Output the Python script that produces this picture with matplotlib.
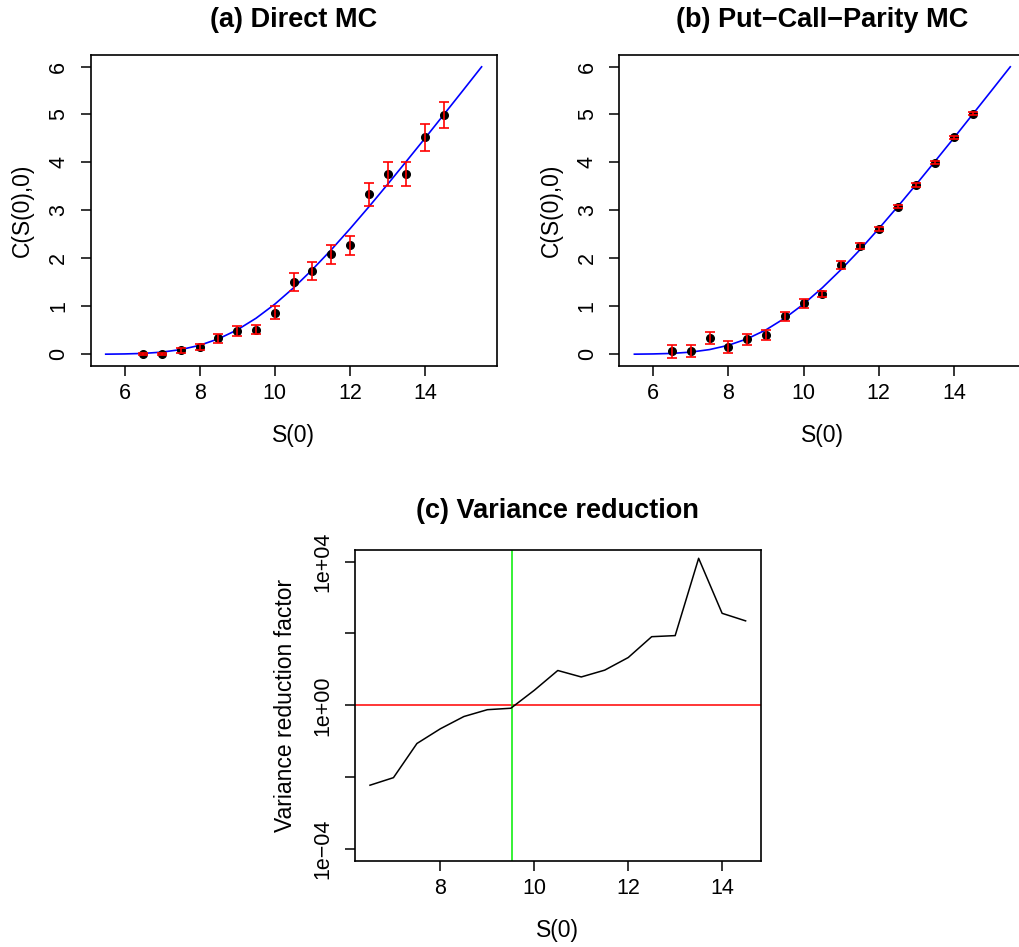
import matplotlib
matplotlib.use("Agg")
import matplotlib.pyplot as plt
import numpy as np

plt.rcParams["font.family"] = ["Liberation Sans", "DejaVu Sans"]

# spot prices of the MC runs
s0 = [6.5, 7.0, 7.5, 8.0, 8.5, 9.0, 9.5, 10.0, 10.5, 11.0, 11.5,
      12.0, 12.5, 13.0, 13.5, 14.0, 14.5]

# (a) direct MC estimates and half-width of error bars
direct_est = [0.01, 0.01, 0.08, 0.15, 0.33, 0.49, 0.51, 0.87, 1.51, 1.74, 2.08,
              2.27, 3.34, 3.76, 3.76, 4.52, 4.99]
direct_err = [0.02, 0.02, 0.05, 0.06, 0.09, 0.10, 0.09, 0.14, 0.19, 0.19, 0.20,
              0.20, 0.24, 0.25, 0.25, 0.29, 0.27]

# (b) put-call-parity MC estimates
pcp_est = [0.06, 0.07, 0.34, 0.15, 0.31, 0.40, 0.79, 1.06, 1.26, 1.86, 2.26,
           2.61, 3.08, 3.53, 3.99, 4.52, 5.02]
pcp_err = [0.13, 0.13, 0.13, 0.125, 0.115, 0.11, 0.10, 0.09, 0.065, 0.075, 0.07,
           0.05, 0.04, 0.04, 0.03, 0.03, 0.025]

# exact call price curve
s_curve = [5.5, 6.0, 6.5, 7.0, 7.5, 8.0, 8.5, 9.0, 9.5, 10.0, 10.5,
           11.0, 11.5, 12.0, 12.5, 13.0, 13.5, 14.0, 14.5, 15.0, 15.5]
c_curve = [0.001, 0.006, 0.017, 0.044, 0.097, 0.186, 0.321, 0.508, 0.751, 1.045, 1.386,
           1.767, 2.178, 2.617, 3.073, 3.544, 4.025, 4.510, 5.003, 5.497, 5.994]

# (c) variance reduction factor, log10 values
log_vrf = [-2.22, -2.01, -1.06, -0.65, -0.31, -0.12, -0.08, 0.42, 0.97, 0.79, 0.98,
           1.33, 1.91, 1.94, 4.09, 2.56, 2.35]
s_cross = 9.52

fig = plt.figure(figsize=(10.2, 9.47), dpi=100)

tick_fs = 15.5
lab_fs = 16.5
title_fs = 19.5


def style(ax):
    for sp in ax.spines.values():
        sp.set_linewidth(1.2)
    ax.tick_params(direction="out", length=7, width=1.1, labelsize=tick_fs)
    ax.tick_params(axis="x", pad=5.5)
    ax.tick_params(axis="y", pad=8.5)
    for lab in ax.get_yticklabels():
        lab.set_rotation(90)
        lab.set_va("center")


def price_panel(ax, est, err, title):
    ax.plot(s_curve, c_curve, color="blue", lw=1.2, zorder=2)
    ax.plot(s0, est, "o", color="black", ms=5.5, zorder=3)
    ax.errorbar(s0, est, yerr=err, fmt="none", ecolor="red", elinewidth=1.2,
                capsize=3.9, capthick=1.2, zorder=4)
    ax.set_xlim(5.1, 15.9)
    ax.set_ylim(-0.24, 6.24)
    ax.set_xticks([6, 8, 10, 12, 14])
    ax.set_yticks([0, 1, 2, 3, 4, 5, 6])
    ax.set_xlabel("S(0)", fontsize=lab_fs, labelpad=14)
    ax.set_ylabel("C(S(0),0)", fontsize=lab_fs, labelpad=10)
    ax.set_title(title, fontsize=title_fs, fontweight="bold", pad=20)
    style(ax)


ax1 = fig.add_axes([0.0889, 0.6138, 0.398, 0.3281])
price_panel(ax1, direct_est, direct_err, "(a) Direct MC")

ax2 = fig.add_axes([0.6072, 0.6138, 0.398, 0.3281])
price_panel(ax2, pcp_est, pcp_err, "(b) Put\u2212Call\u2212Parity MC")

ax3 = fig.add_axes([0.348, 0.0911, 0.3977, 0.3281])
ax3.set_yscale("log")
ax3.plot(s0, 10 ** np.array(log_vrf), color="black", lw=1.1, zorder=3)
ax3.axhline(1, color="red", lw=1.1, zorder=2)
ax3.axvline(s_cross, color="#00ee00", lw=1.1, zorder=2)
ax3.set_xlim(6.18, 14.82)
ax3.set_ylim(10 ** -4.32, 10 ** 4.32)
ax3.set_xticks([8, 10, 12, 14])
ax3.set_yticks([1e-4, 1e-2, 1, 1e2, 1e4])
ax3.set_yticklabels(["1e\u221204", "", "1e+00", "", "1e+04"])
ax3.minorticks_off()
ax3.set_xlabel("S(0)", fontsize=lab_fs, labelpad=14)
ax3.set_ylabel("Variance reduction factor", fontsize=lab_fs, labelpad=11)
ax3.set_title("(c) Variance reduction", fontsize=title_fs, fontweight="bold", pad=23)
style(ax3)

fig.savefig("out.png", dpi=100)
